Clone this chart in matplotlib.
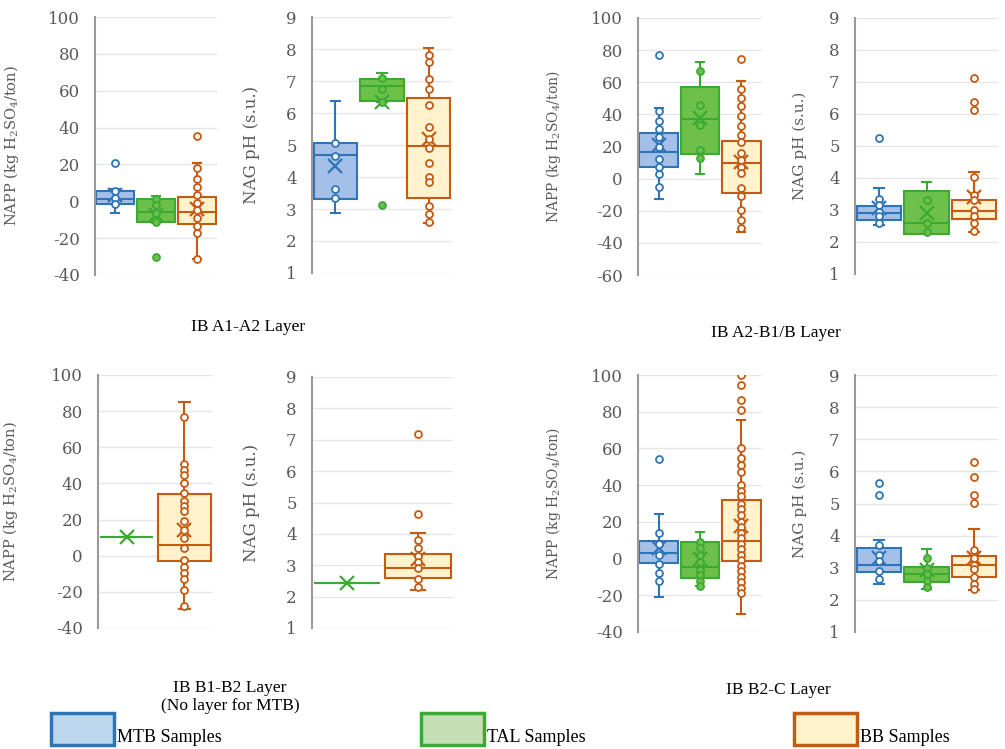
import matplotlib
matplotlib.use("Agg")
import matplotlib.pyplot as plt
from matplotlib.patches import Rectangle

plt.rcParams['font.family'] = 'DejaVu Serif'
plt.rcParams['mathtext.fontset'] = 'dejavuserif'
plt.rcParams['axes.unicode_minus'] = False

# box stats: [whislo, q1, med, q3, whishi], mean, plotted points
groups = ["MTB", "TAL", "BB"]
edge_col = {"MTB": "#2E75B6", "TAL": "#3AAA35", "BB": "#C55A11"}
fill_col = {"MTB": "#A4BFE8", "TAL": "#6DC04A", "BB": "#FFF2CC"}
legend_fill = {"MTB": "#BDD7EE", "TAL": "#C5E0B4", "BB": "#FFF2CC"}
face_col = {"MTB": "white", "TAL": "#6DC04A", "BB": "white"}

# IB A1-A2 layer
a1_napp_box = {"MTB": [-6.5, -1.3, 1, 5.5, 6.7], "TAL": [-12, -11.5, -6, 1, 2.7], "BB": [-31.5, -12.5, -6, 2.5, 21]}
a1_napp_mean = {"MTB": 3.5, "TAL": -7.5, "BB": -4}
a1_napp_pts = {"MTB": [21, 5.5, 2, -1.5],
               "TAL": [1, -2, -6.4, -11, -30],
               "BB": [35.5, 18, 12, 7.5, 3.3, -1, -5, -9, -13.5, -17, -31.5]}
a1_ph_box = {"MTB": [2.88, 3.32, 4.68, 5.06, 6.36], "TAL": [6.35, 6.38, 6.83, 7.06, 7.25], "BB": [2.55, 3.33, 4.97, 6.46, 8.03]}
a1_ph_mean = {"MTB": 4.35, "TAL": 6.35, "BB": 5.18}
a1_ph_pts = {"MTB": [5.05, 4.65, 3.64, 3.33],
             "TAL": [7.1, 6.75, 6.35, 3.11],
             "BB": [7.8, 7.6, 7.05, 6.75, 6.25, 5.55, 5.2, 4.9, 4.45, 4.0, 3.85, 3.1, 2.85, 2.6]}

# IB A2-B1/B layer
a2_napp_box = {"MTB": [-12.6, 7.5, 16.5, 28.7, 43.9], "TAL": [3, 15.4, 37.2, 57, 72.6], "BB": [-33.4, -9, 9.6, 23.5, 60.5]}
a2_napp_mean = {"MTB": 21, "TAL": 37.6, "BB": 10.2}
a2_napp_pts = {"MTB": [77, 42, 35.6, 31, 26, 20, 12, 7.5, 3, -5],
               "TAL": [66.8, 46, 33.5, 18, 13],
               "BB": [74.4, 55.7, 50, 45, 38.7, 32.5, 27.3, 23, 16, 11.7, 7.5, 3.4, -6, -11, -19.5, -25.7, -31]}
a2_ph_box = {"MTB": [2.52, 2.69, 2.9, 3.11, 3.7], "TAL": [2.25, 2.25, 2.59, 3.6, 3.87], "BB": [2.3, 2.71, 2.98, 3.32, 4.18]}
a2_ph_mean = {"MTB": 3.05, "TAL": 2.9, "BB": 3.42}
a2_ph_pts = {"MTB": [5.25, 3.35, 3.15, 2.95, 2.8, 2.6],
             "TAL": [3.3, 2.6, 2.3],
             "BB": [7.14, 6.36, 6.13, 4.02, 3.47, 3.3, 3.0, 2.8, 2.6, 2.35]}

# IB B1-B2 layer (no MTB)
b1_napp_box = {"TAL": [10.5, 10.5, 10.5, 10.5, 10.5], "BB": [-29.3, -3.1, 6.1, 34.3, 84.9]}
b1_napp_mean = {"TAL": 10.5, "BB": 14}
b1_napp_pts = {"TAL": [],
               "BB": [76.6, 50.8, 47.5, 44.8, 40.5, 34.6, 30, 27.3, 24.5, 19, 14, 9.8, 4.2, -2.2, -6, -9.6, -13, -18.8, -28]}
b1_ph_box = {"TAL": [2.44, 2.44, 2.44, 2.44, 2.44], "BB": [2.21, 2.59, 2.92, 3.37, 4.02]}
b1_ph_mean = {"TAL": 2.44, "BB": 3.2}
b1_ph_pts = {"TAL": [],
             "BB": [7.17, 4.64, 3.8, 3.55, 3.3, 3.1, 2.9, 2.55, 2.3]}

# IB B2-C layer
b2_napp_box = {"MTB": [-21, -2.6, 2.8, 9.7, 24.1], "TAL": [-15.2, -10.5, -4.8, 9.1, 14.7], "BB": [-30.4, -1.5, 9.7, 31.7, 75.6]}
b2_napp_mean = {"MTB": 6, "TAL": -0.2, "BB": 17.8}
b2_napp_pts = {"MTB": [54.3, 13.8, 7.9, 2, -3, -8, -12.4],
               "TAL": [9, 6, 2, -2, -6, -9, -12, -15],
               "BB": [100, 94.6, 86.5, 81, 60, 55, 51, 47, 40, 37, 34, 30, 27, 24, 20, 17, 14, 11, 8, 5, 2,
                      -1, -4, -7, -10, -13, -16, -19]}
b2_ph_box = {"MTB": [2.5, 2.87, 3.08, 3.6, 3.86], "TAL": [2.33, 2.56, 2.82, 3.03, 3.58], "BB": [2.32, 2.71, 3.08, 3.36, 4.22]}
b2_ph_mean = {"MTB": 3.29, "TAL": 2.92, "BB": 3.29}
b2_ph_pts = {"MTB": [5.65, 5.26, 3.7, 3.4, 3.2, 2.9, 2.65],
             "TAL": [3.3, 3.0, 2.8, 2.6, 2.4],
             "BB": [6.3, 5.83, 5.26, 5.03, 3.55, 3.3, 3.1, 2.95, 2.7, 2.5, 2.35]}

napp_label = r'NAPP (kg H$_2$SO$_4$/ton)'
ph_label = 'NAG pH (s.u.)'

W, H = 1005, 749
fig = plt.figure(figsize=(W / 100, H / 100), dpi=100)


def make_ax(x0, x1, y0, y1):
    # pixel box (top-left origin) -> figure axes
    return fig.add_axes([x0 / W, 1 - y1 / H, (x1 - x0) / W, (y1 - y0) / H])


def draw_panel(ax, box, mean, pts, ylim, yticks, ylabel, label_x, x0, x1, label_size=12):
    keys = [g for g in groups if g in box]
    for i, g in enumerate(keys):
        lo, q1, med, q3, hi = box[g]
        st = [dict(whislo=lo, q1=q1, med=med, q3=q3, whishi=hi, mean=mean[g], fliers=[])]
        c = edge_col[g]
        ax.bxp(st, positions=[i + 1], widths=0.93, capwidths=0.2, patch_artist=True,
               showmeans=True, showfliers=False,
               boxprops=dict(facecolor=fill_col[g], edgecolor=c, linewidth=1.5),
               whiskerprops=dict(color=c, linewidth=1.5),
               capprops=dict(color=c, linewidth=1.5),
               medianprops=dict(color=c, linewidth=1.5),
               meanprops=dict(marker='x', markeredgecolor=c, markersize=10, markeredgewidth=1.6))
        if pts[g]:
            ax.plot([i + 1] * len(pts[g]), pts[g], 'o', ms=5, mfc=face_col[g], mec=c, mew=1.3,
                    linestyle='none', clip_on=True, zorder=4)
    ax.set_xlim(0.5, len(keys) + 0.5)
    ax.set_ylim(*ylim)
    ax.set_yticks(yticks)
    ax.set_xticks([])
    ax.grid(axis='y', color='#E6E6E6', linewidth=1)
    ax.set_axisbelow(True)
    for s in ['top', 'right', 'bottom']:
        ax.spines[s].set_visible(False)
    ax.spines['left'].set_color('#A09898')
    ax.spines['left'].set_linewidth(1.5)
    ax.tick_params(axis='y', length=0, pad=11, labelsize=12, labelcolor='#595959')
    ax.set_ylabel(ylabel, fontsize=label_size, color='#595959')
    ax.yaxis.set_label_coords((label_x - x0) / (x1 - x0), 0.5)


napp_ticks = list(range(-40, 101, 20))
napp_ticks2 = list(range(-60, 101, 20))
ph_ticks = list(range(1, 10))

ax = make_ax(95, 217, 17, 275)
draw_panel(ax, a1_napp_box, a1_napp_mean, a1_napp_pts, (-40, 100), napp_ticks, napp_label, 21, 95, 217, 10.5)
ax = make_ax(312, 452, 17, 273)
draw_panel(ax, a1_ph_box, a1_ph_mean, a1_ph_pts, (1, 9), ph_ticks, ph_label, 260, 312, 452)
ax = make_ax(638, 762, 18, 275)
draw_panel(ax, a2_napp_box, a2_napp_mean, a2_napp_pts, (-60, 100), napp_ticks2, napp_label, 563, 638, 762, 10)
ax = make_ax(855, 998, 18, 274)
draw_panel(ax, a2_ph_box, a2_ph_mean, a2_ph_pts, (1, 9), ph_ticks, ph_label, 807, 855, 998, 11)

ax = make_ax(98, 213, 375, 628)
draw_panel(ax, b1_napp_box, b1_napp_mean, b1_napp_pts, (-40, 100), napp_ticks, napp_label, 20, 98, 213, 10.5)
ax = make_ax(312, 453, 377, 628)
draw_panel(ax, b1_ph_box, b1_ph_mean, b1_ph_pts, (1, 9), ph_ticks, ph_label, 260, 312, 453)
ax = make_ax(638, 762, 375, 632)
draw_panel(ax, b2_napp_box, b2_napp_mean, b2_napp_pts, (-40, 100), napp_ticks, napp_label, 563, 638, 762, 10)
ax = make_ax(855, 998, 375, 632)
draw_panel(ax, b2_ph_box, b2_ph_mean, b2_ph_pts, (1, 9), ph_ticks, ph_label, 807, 855, 998, 11)

# panel captions
cap_font = dict(family='Liberation Serif', fontsize=12.5, color='black', ha='center', va='center')
fig.text(248 / W, 1 - 327 / H, 'IB A1-A2 Layer', **cap_font)
fig.text(776 / W, 1 - 333 / H, 'IB A2-B1/B Layer', **cap_font)
fig.text(230 / W, 1 - 688 / H, 'IB B1-B2 Layer', **cap_font)
fig.text(230 / W, 1 - 706 / H, '(No layer for MTB)', **cap_font)
fig.text(778 / W, 1 - 690 / H, 'IB B2-C Layer', **cap_font)

# legend
leg_x = {"MTB": 51, "TAL": 421, "BB": 794}
for g in groups:
    fig.patches.append(Rectangle((leg_x[g] / W, 1 - 745 / H), 63 / W, 32 / H, transform=fig.transFigure,
                                 facecolor=legend_fill[g], edgecolor=edge_col[g], linewidth=2.5))
    fig.text((leg_x[g] + 66) / W, 1 - 738 / H, g + ' Samples', family='Liberation Serif',
             fontsize=13, color='black', ha='left', va='center')

fig.savefig('out.png', dpi=100)
